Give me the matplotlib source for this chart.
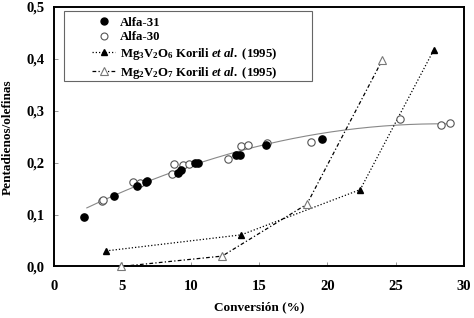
import numpy as np
import matplotlib
matplotlib.use("Agg")
import matplotlib.pyplot as plt
from matplotlib.ticker import FuncFormatter
from matplotlib.lines import Line2D
from matplotlib.patches import Rectangle

plt.rcParams['font.family'] = ['Liberation Serif', 'DejaVu Serif']
plt.rcParams['font.weight'] = 'bold'
plt.rcParams['mathtext.fontset'] = 'custom'
plt.rcParams['mathtext.rm'] = 'Liberation Serif:bold'
plt.rcParams['mathtext.it'] = 'Liberation Serif:bold:italic'
plt.rcParams['mathtext.bf'] = 'Liberation Serif:bold'

# Data
alfa31_x = [2.2, 4.4, 6.1, 6.7, 6.8, 9.1, 9.3, 10.3, 10.5, 13.3, 13.6, 15.5, 19.6]
alfa31_y = [0.096, 0.135, 0.155, 0.163, 0.165, 0.180, 0.186, 0.199, 0.200, 0.214, 0.215, 0.234, 0.245]
alfa30_x = [3.5, 3.6, 5.8, 6.3, 8.6, 8.8, 9.4, 9.9, 12.7, 13.7, 14.2, 15.6, 18.8, 25.3, 28.3, 29.0]
alfa30_y = [0.126, 0.128, 0.163, 0.160, 0.179, 0.198, 0.195, 0.198, 0.208, 0.232, 0.235, 0.238, 0.239, 0.284, 0.273, 0.277]
mg3_x = [3.8, 13.7, 22.4, 27.8]
mg3_y = [0.030, 0.061, 0.148, 0.418]
mg2_x = [4.9, 12.3, 18.5, 24.0]
mg2_y = [0.0, 0.020, 0.120, 0.397]
xticks = [0, 5, 10, 15, 20, 25, 30]
yticks = [0.0, 0.1, 0.2, 0.3, 0.4, 0.5]
labels = ["Alfa-31", "Alfa-30",
          r"Mg$_3$V$_2$O$_6$ Korili $et\ al.$ (1995)",
          r"Mg$_2$V$_2$O$_7$ Korili $et\ al.$ (1995)"]

DOT = (0, (1, 1.6))
DASHDOT = (0, (3, 1.8, 1, 1.8))

fig = plt.figure(figsize=(4.74, 3.18), dpi=100)
ax = fig.add_axes([0.114, 0.162, 0.865, 0.816])

# trend line of Alfa data
ax_all = np.array(alfa31_x + alfa30_x); ay_all = np.array(alfa31_y + alfa30_y)
coef = np.polyfit(ax_all, ay_all, 2)
tx = np.linspace(2.4, 29.2, 200)
ax.plot(tx, np.polyval(coef, tx), color='#888888', lw=0.8, zorder=2)

ax.plot(mg3_x, mg3_y, color='black', lw=0.9, ls=DOT, zorder=2)
ax.plot(mg2_x, mg2_y, color='black', lw=0.9, ls=DASHDOT, zorder=2)

ax.plot(alfa30_x, alfa30_y, 'o', ms=5.3, mfc='white', mec='#555555', mew=0.8, ls='none', zorder=3)
ax.plot(alfa31_x, alfa31_y, 'o', ms=5.2, mfc='black', mec='black', ls='none', zorder=4)
ax.plot(mg3_x, mg3_y, '^', ms=5, mfc='black', mec='black', ls='none', zorder=4)
ax.plot(mg2_x, mg2_y, '^', ms=5.5, mfc='white', mec='#777777', mew=0.8, ls='none', zorder=4, clip_on=False)

ax.set_xlim(0, 30)
ax.set_ylim(0, 0.5)
ax.set_xticks(xticks)
ax.set_yticks(yticks)
ax.xaxis.set_major_formatter(FuncFormatter(lambda v, p: f"{v:.0f}"))
ax.yaxis.set_major_formatter(FuncFormatter(lambda v, p: f"{v:.1f}".replace('.', ',')))
ax.tick_params(direction='in', length=3, width=0.6, color='#888888', labelsize=10.5)
ax.tick_params(axis='x', pad=10)
ax.tick_params(axis='y', pad=7)
for lab in ax.get_xticklabels() + ax.get_yticklabels():
    lab.set_fontweight('bold')
for s in ax.spines.values():
    s.set_linewidth(1.4)
    s.set_color('black')

ax.set_xlabel("Conversión (%)", fontsize=9.5, fontweight='bold', labelpad=6)
ax.set_ylabel("Pentadienos/olefinas", fontsize=9.5, fontweight='bold', labelpad=9)

# legend frame drawn separately (wide padded box)
ax.add_patch(Rectangle((0.0244, 0.715), 0.605, 0.27, transform=ax.transAxes,
                       fill=True, facecolor='white', edgecolor='#666666', lw=0.8, zorder=5))
handles = [
    Line2D([], [], marker='o', ls='none', ms=5, mfc='black', mec='black'),
    Line2D([], [], marker='o', ls='none', ms=5, mfc='white', mec='#555555', mew=0.8),
    Line2D([], [], marker='^', color='black', lw=0.9, ls=DOT, ms=5, mfc='black'),
    Line2D([], [], marker='^', color='black', lw=0.9, ls=DASHDOT, ms=5.5, mfc='white', mec='#777777', mew=0.8),
]
leg = ax.legend(handles, labels, loc='upper left', bbox_to_anchor=(0.093, 0.962),
                prop={'family': 'Liberation Serif', 'weight': 'bold', 'size': 9.2},
                frameon=False, labelspacing=0.2,
                handlelength=1.8, handletextpad=0.4, borderpad=0, borderaxespad=0)
leg.set_zorder(6)

fig.savefig("out.png", dpi=100)
